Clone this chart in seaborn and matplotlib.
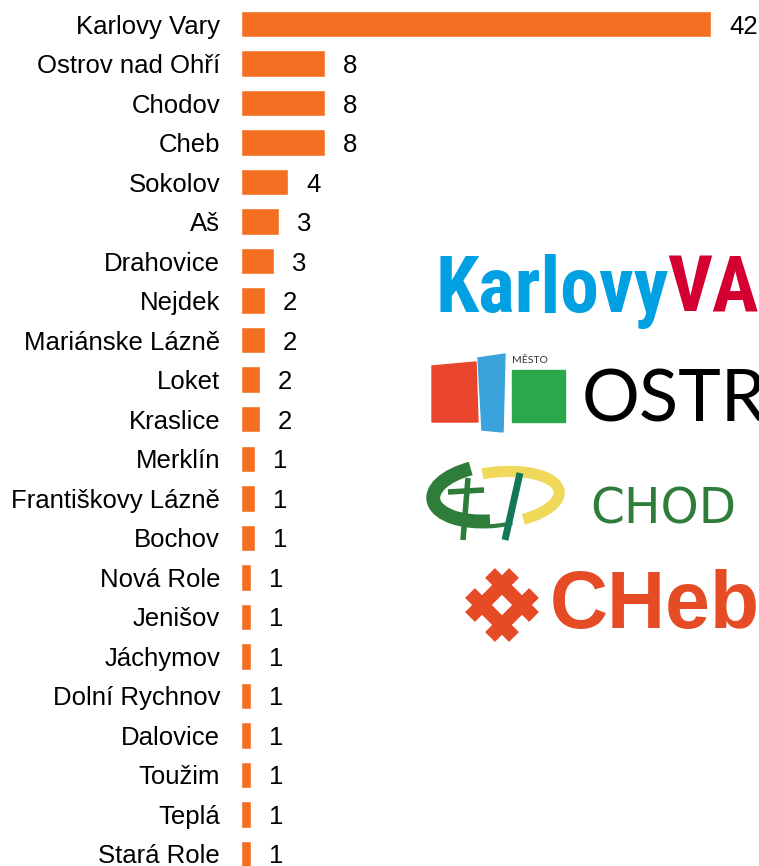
import matplotlib
matplotlib.use("Agg")
import matplotlib.pyplot as plt
import matplotlib.patches as mpatches
import seaborn as sns
import pandas as pd

# --- data (labels are the rounded values shown) ---
cities = ["Karlovy Vary", "Ostrov nad Ohří", "Chodov", "Cheb", "Sokolov", "Aš",
          "Drahovice", "Nejdek", "Mariánske Lázně", "Loket", "Kraslice", "Merklín",
          "Františkovy Lázně", "Bochov", "Nová Role", "Jenišov", "Jáchymov",
          "Dolní Rychnov", "Dalovice", "Toužim", "Teplá", "Stará Role"]
values = [42, 7.5, 7.5, 7.5, 4.2, 3.4, 2.95, 2.15, 2.15, 1.7, 1.7, 1.25,
          1.25, 1.25, 0.9, 0.9, 0.9, 0.9, 0.9, 0.9, 0.9, 0.9]
value_labels = ["42", "8", "8", "8", "4", "3", "3", "2", "2", "2", "2", "1",
                "1", "1", "1", "1", "1", "1", "1", "1", "1", "1"]

BAR_COLOR = "#F37022"
W, H = 759, 866

df = pd.DataFrame({"city": cities, "value": values})

sns.set_theme(style="white")
plt.rcParams["font.family"] = ["Liberation Sans", "DejaVu Sans"]

fig = plt.figure(figsize=(W / 100, H / 100), dpi=100)

# overlay in pixel coordinates for the logo area
lay = fig.add_axes([0, 0, 1, 1])
lay.set_xlim(0, W)
lay.set_ylim(H, 0)
lay.axis("off")

# --- bar chart ---
ax = fig.add_axes([241 / W, 0, (470 * 45 / 42) / W, 1])
sns.barplot(data=df, x="value", y="city", orient="h", color=BAR_COLOR,
            saturation=1, width=0.67, ax=ax)
ax.set_xlim(0, 45)
ax.set_ylim(21 + 12 / 39.5, -24 / 39.5)
ax.set_xlabel("")
ax.set_ylabel("")
ax.set_xticks([])
ax.tick_params(axis="y", length=0, pad=15, labelsize=18.5, labelcolor="black")
sns.despine(ax=ax, left=True, bottom=True)
ax.patch.set_alpha(0)
texts = ax.bar_label(ax.containers[0], labels=value_labels, padding=13,
                     fontsize=18.5, color="black")
for t in texts:
    t.set_va("center_baseline")

# --- logos (approximated) ---
cond = ["Roboto Condensed", "Liberation Sans"]
lay.text(436, 312, "Karlovy", fontsize=56, color="#00A0E3", fontweight="bold",
         family=cond, va="baseline")
lay.text(667, 312, "VA", fontsize=56, color="#D50032", fontweight="bold",
         family=cond, va="baseline")

# Ostrov
lay.add_patch(mpatches.Polygon([(432, 366), (476, 362), (478, 422), (432, 422)],
                               color="#E8452C"))
lay.add_patch(mpatches.Polygon([(478, 358), (505, 354), (503, 432), (482, 430)],
                               color="#3AA3DC"))
lay.add_patch(mpatches.Rectangle((512, 370), 53, 52, color="#2AA84A"))
lay.text(512, 363, "MĚSTO", fontsize=7.5, color="#333333", family=["Lato", "DejaVu Sans"],
         va="baseline")
lay.text(582, 422, "OSTR", fontsize=52, color="black",
         family=["Lato", "DejaVu Sans"], va="baseline")

# Chodov
lay.add_patch(mpatches.Arc((492, 493), 118, 56, angle=-6, theta1=100, theta2=235,
                           color="#2F7D3A", lw=10))
lay.add_patch(mpatches.Arc((492, 493), 150, 66, angle=-6, theta1=62, theta2=100,
                           color="#2F7D3A", lw=3))
lay.add_patch(mpatches.Arc((497, 498), 125, 52, angle=-6, theta1=245, theta2=405,
                           color="#F0D95A", lw=8))
lay.plot([468, 463], [478, 540], color="#2F7D3A", lw=4, solid_capstyle="butt")
lay.plot([448, 484], [492, 490], color="#2F7D3A", lw=4, solid_capstyle="butt")
lay.plot([520, 505], [473, 540], color="#13785A", lw=5, solid_capstyle="butt")
lay.text(590, 523, "CHOD", fontsize=35, color="#2F7D3A",
         family=["DejaVu Sans", "Liberation Sans"], va="baseline")

# Cheb
cx, cy, off, half = 502, 605, 10, 22
for o in (-off, off):
    lay.plot([cx - half + o, cx + half + o], [cy - half - o, cy + half - o],
             color="#E54B25", lw=10, solid_capstyle="butt")
    lay.plot([cx - half + o, cx + half + o], [cy + half + o, cy - half + o],
             color="#E54B25", lw=10, solid_capstyle="butt")
lay.text(550, 628, "CHeb", fontsize=58, color="#E54B25", fontweight="bold",
         family=["Liberation Sans", "DejaVu Sans"], va="baseline")

fig.savefig("out.png", dpi=100)
